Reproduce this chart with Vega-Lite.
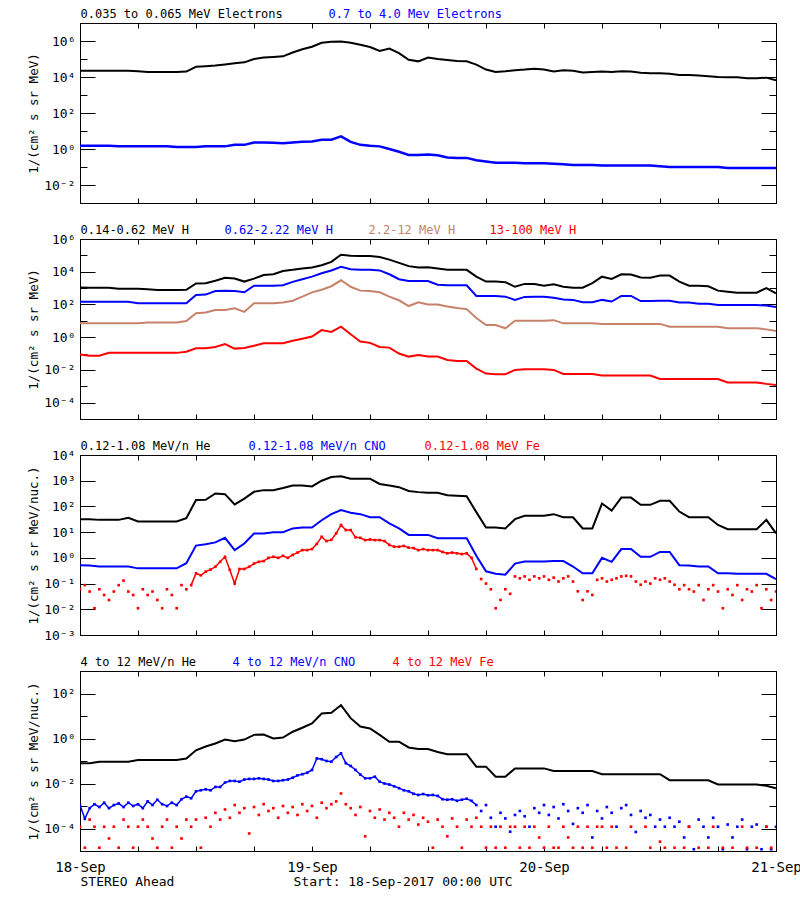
{
"$schema":"https://vega.github.io/schema/vega-lite/v6.json",
"padding":{"left":26,"top":6,"right":0,"bottom":0},
"bounds":"flush",
"spacing":36,
"datasets":{
"h":[
{"t":0,"e1":2.2e4,"e2":1.5,"h1":1070,"h2":148,"h3":7,"h4":0.089,"a1":32,"a2":0.52,"b1":0.079},
{"t":1,"e1":2.2e4,"e2":1.5,"h1":1050,"h2":148,"h3":7,"h4":0.074,"a1":32,"a2":0.5,"b1":0.079},
{"t":2,"e1":2.2e4,"e2":1.5,"h1":1050,"h2":148,"h3":7,"h4":0.074,"a1":30,"a2":0.46,"b1":0.093},
{"t":3,"e1":2.2e4,"e2":1.5,"h1":1050,"h2":148,"h3":7,"h4":0.11,"a1":30,"a2":0.46,"b1":0.093},
{"t":4,"e1":2.2e4,"e2":1.4,"h1":900,"h2":148,"h3":7,"h4":0.11,"a1":30,"a2":0.46,"b1":0.093},
{"t":5,"e1":2.2e4,"e2":1.4,"h1":900,"h2":148,"h3":7,"h4":0.11,"a1":36,"a2":0.46,"b1":0.093},
{"t":6,"e1":2.1e4,"e2":1.4,"h1":900,"h2":117,"h3":7,"h4":0.11,"a1":26,"a2":0.39,"b1":0.11},
{"t":7,"e1":1.9e4,"e2":1.4,"h1":850,"h2":117,"h3":8,"h4":0.11,"a1":26,"a2":0.39,"b1":0.11},
{"t":8,"e1":1.9e4,"e2":1.4,"h1":760,"h2":117,"h3":8,"h4":0.11,"a1":26,"a2":0.39,"b1":0.11},
{"t":9,"e1":1.9e4,"e2":1.4,"h1":760,"h2":117,"h3":8,"h4":0.11,"a1":26,"a2":0.39,"b1":0.11},
{"t":10,"e1":1.9e4,"e2":1.3,"h1":760,"h2":117,"h3":8,"h4":0.11,"a1":26,"a2":0.39,"b1":0.11},
{"t":11,"e1":2.0e4,"e2":1.3,"h1":780,"h2":117,"h3":9.8,"h4":0.13,"a1":35,"a2":0.62,"b1":0.13},
{"t":12,"e1":3.7e4,"e2":1.3,"h1":1900,"h2":380,"h3":29,"h4":0.21,"a1":178,"a2":3.0,"b1":0.3},
{"t":13,"e1":4.0e4,"e2":1.4,"h1":2000,"h2":400,"h3":32,"h4":0.21,"a1":180,"a2":3.4,"b1":0.44},
{"t":14,"e1":4.4e4,"e2":1.4,"h1":2800,"h2":660,"h3":46,"h4":0.25,"a1":320,"a2":4.0,"b1":0.6},
{"t":15,"e1":5.0e4,"e2":1.4,"h1":4300,"h2":680,"h3":46,"h4":0.38,"a1":300,"a2":6.0,"b1":0.9},
{"t":16,"e1":5.8e4,"e2":1.7,"h1":3800,"h2":660,"h3":58,"h4":0.2,"a1":120,"a2":2.0,"b1":0.75},
{"t":17,"e1":6.5e4,"e2":1.7,"h1":2500,"h2":560,"h3":35,"h4":0.22,"a1":200,"a2":3.6,"b1":0.9},
{"t":18,"e1":1.0e5,"e2":2.3,"h1":3800,"h2":1400,"h3":117,"h4":0.3,"a1":370,"a2":8.9,"b1":1.45},
{"t":19,"e1":1.2e5,"e2":2.3,"h1":6300,"h2":1400,"h3":117,"h4":0.43,"a1":430,"a2":8.9,"b1":1.5},
{"t":20,"e1":1.3e5,"e2":2.2,"h1":7000,"h2":1400,"h3":117,"h4":0.43,"a1":430,"a2":10,"b1":1.0},
{"t":21,"e1":1.4e5,"e2":2.1,"h1":1.1e4,"h2":1500,"h3":130,"h4":0.43,"a1":520,"a2":10,"b1":1.1},
{"t":22,"e1":2.3e5,"e2":2.3,"h1":1.3e4,"h2":2400,"h3":170,"h4":0.6,"a1":650,"a2":14,"b1":2.0},
{"t":23,"e1":3.5e5,"e2":2.5,"h1":1.6e4,"h2":3500,"h3":300,"h4":0.8,"a1":650,"a2":15,"b1":3.0},
{"t":24,"e1":4.8e5,"e2":2.6,"h1":1.8e4,"h2":5000,"h3":550,"h4":1.1,"a1":600,"a2":15,"b1":4.7},
{"t":25,"e1":8.0e5,"e2":3.3,"h1":2.5e4,"h2":8000,"h3":800,"h4":2.7,"a1":1000,"a2":29,"b1":13},
{"t":26,"e1":9.0e5,"e2":3.3,"h1":4.0e4,"h2":1.2e4,"h3":1300,"h4":2.1,"a1":1400,"a2":50,"b1":14},
{"t":27,"e1":9.5e5,"e2":5.0,"h1":1.1e5,"h2":2.0e4,"h3":3000,"h4":4.4,"a1":1500,"a2":72,"b1":30},
{"t":28,"e1":8.0e5,"e2":2.5,"h1":9.5e4,"h2":1.4e4,"h3":1200,"h4":1.5,"a1":1200,"a2":57,"b1":8},
{"t":29,"e1":6.2e5,"e2":1.7,"h1":9.0e4,"h2":1.3e4,"h3":700,"h4":0.55,"a1":1200,"a2":50,"b1":3.4},
{"t":30,"e1":4.6e5,"e2":1.5,"h1":9.0e4,"h2":1.3e4,"h3":660,"h4":0.45,"a1":1200,"a2":38,"b1":2.8},
{"t":31,"e1":2.8e5,"e2":1.4,"h1":8.0e4,"h2":1.2e4,"h3":550,"h4":0.25,"a1":750,"a2":38,"b1":1.45},
{"t":32,"e1":3.8e5,"e2":1.0,"h1":5.5e4,"h2":7000,"h3":300,"h4":0.23,"a1":650,"a2":22,"b1":0.72},
{"t":33,"e1":2.1e5,"e2":0.7,"h1":3.5e4,"h2":3500,"h3":180,"h4":0.1,"a1":560,"a2":14,"b1":0.72},
{"t":34,"e1":9.0e4,"e2":0.47,"h1":2.2e4,"h2":2700,"h3":80,"h4":0.065,"a1":400,"a2":7.8,"b1":0.4},
{"t":35,"e1":7.4e4,"e2":0.47,"h1":1.8e4,"h2":2700,"h3":135,"h4":0.08,"a1":360,"a2":7.8,"b1":0.34},
{"t":36,"e1":1.2e5,"e2":0.5,"h1":1.9e4,"h2":2700,"h3":100,"h4":0.065,"a1":340,"a2":7.8,"b1":0.34},
{"t":37,"e1":1.0e5,"e2":0.45,"h1":1.6e4,"h2":1600,"h3":100,"h4":0.065,"a1":340,"a2":5.8,"b1":0.25},
{"t":38,"e1":8.9e4,"e2":0.34,"h1":1.3e4,"h2":1500,"h3":75,"h4":0.04,"a1":270,"a2":5.8,"b1":0.2},
{"t":39,"e1":7.7e4,"e2":0.32,"h1":1.3e4,"h2":1500,"h3":60,"h4":0.035,"a1":260,"a2":5.8,"b1":0.2},
{"t":40,"e1":7.4e4,"e2":0.32,"h1":1.3e4,"h2":1500,"h3":52,"h4":0.035,"a1":250,"a2":5.8,"b1":0.2},
{"t":41,"e1":4.9e4,"e2":0.24,"h1":5000,"h2":330,"h3":15,"h4":0.012,"a1":60,"a2":1.2,"b1":0.056},
{"t":42,"e1":2.6e4,"e2":0.2,"h1":2500,"h2":330,"h3":5.6,"h4":0.006,"a1":15,"a2":0.3,"b1":0.056},
{"t":43,"e1":1.9e4,"e2":0.17,"h1":2500,"h2":330,"h3":5.6,"h4":0.0054,"a1":15,"a2":0.24,"b1":0.02},
{"t":44,"e1":2.1e4,"e2":0.17,"h1":2300,"h2":300,"h3":3.5,"h4":0.0054,"a1":14,"a2":0.22,"b1":0.02},
{"t":45,"e1":2.4e4,"e2":0.17,"h1":1200,"h2":190,"h3":10,"h4":0.01,"a1":32,"a2":0.6,"b1":0.047},
{"t":46,"e1":2.6e4,"e2":0.16,"h1":1800,"h2":290,"h3":10,"h4":0.011,"a1":43,"a2":0.72,"b1":0.047},
{"t":47,"e1":2.9e4,"e2":0.16,"h1":1800,"h2":300,"h3":10,"h4":0.011,"a1":43,"a2":0.72,"b1":0.047},
{"t":48,"e1":2.6e4,"e2":0.16,"h1":1400,"h2":300,"h3":10,"h4":0.011,"a1":43,"a2":0.72,"b1":0.047},
{"t":49,"e1":2.0e4,"e2":0.15,"h1":1700,"h2":260,"h3":11,"h4":0.01,"a1":50,"a2":0.75,"b1":0.036},
{"t":50,"e1":2.4e4,"e2":0.14,"h1":1200,"h2":200,"h3":7,"h4":0.0056,"a1":38,"a2":0.75,"b1":0.036},
{"t":51,"e1":2.2e4,"e2":0.13,"h1":1050,"h2":190,"h3":7,"h4":0.0056,"a1":38,"a2":0.46,"b1":0.036},
{"t":52,"e1":1.8e4,"e2":0.13,"h1":1050,"h2":135,"h3":7,"h4":0.0056,"a1":14,"a2":0.25,"b1":0.036},
{"t":53,"e1":1.9e4,"e2":0.13,"h1":2000,"h2":135,"h3":7,"h4":0.0056,"a1":14,"a2":0.25,"b1":0.036},
{"t":54,"e1":2.0e4,"e2":0.12,"h1":5000,"h2":190,"h3":6.5,"h4":0.0045,"a1":130,"a2":1.0,"b1":0.026},
{"t":55,"e1":1.9e4,"e2":0.12,"h1":3600,"h2":150,"h3":6.5,"h4":0.0045,"a1":69,"a2":0.7,"b1":0.026},
{"t":56,"e1":2.1e4,"e2":0.12,"h1":7000,"h2":330,"h3":6.5,"h4":0.0045,"a1":220,"a2":2.2,"b1":0.026},
{"t":57,"e1":2.0e4,"e2":0.12,"h1":6800,"h2":330,"h3":6.5,"h4":0.0045,"a1":220,"a2":2.2,"b1":0.026},
{"t":58,"e1":1.7e4,"e2":0.12,"h1":4500,"h2":160,"h3":6.5,"h4":0.0045,"a1":115,"a2":1.1,"b1":0.026},
{"t":59,"e1":1.6e4,"e2":0.12,"h1":4300,"h2":160,"h3":6.5,"h4":0.0045,"a1":115,"a2":1.1,"b1":0.026},
{"t":60,"e1":1.6e4,"e2":0.11,"h1":5800,"h2":170,"h3":6.5,"h4":0.0028,"a1":166,"a2":1.7,"b1":0.026},
{"t":61,"e1":1.5e4,"e2":0.1,"h1":5800,"h2":170,"h3":4.4,"h4":0.0028,"a1":166,"a2":1.7,"b1":0.014},
{"t":62,"e1":1.3e4,"e2":0.1,"h1":2500,"h2":130,"h3":4.4,"h4":0.0028,"a1":63,"a2":0.52,"b1":0.014},
{"t":63,"e1":1.3e4,"e2":0.1,"h1":1400,"h2":130,"h3":4.4,"h4":0.0028,"a1":38,"a2":0.5,"b1":0.014},
{"t":64,"e1":1.2e4,"e2":0.1,"h1":1400,"h2":112,"h3":4.4,"h4":0.0028,"a1":38,"a2":0.46,"b1":0.014},
{"t":65,"e1":1.1e4,"e2":0.1,"h1":1300,"h2":112,"h3":4.4,"h4":0.0028,"a1":38,"a2":0.46,"b1":0.014},
{"t":66,"e1":1.0e4,"e2":0.1,"h1":700,"h2":93,"h3":4.4,"h4":0.0028,"a1":19,"a2":0.25,"b1":0.009},
{"t":67,"e1":9.6e3,"e2":0.088,"h1":600,"h2":93,"h3":3.5,"h4":0.0017,"a1":13,"a2":0.25,"b1":0.009},
{"t":68,"e1":9.6e3,"e2":0.088,"h1":520,"h2":93,"h3":3.5,"h4":0.0017,"a1":13,"a2":0.24,"b1":0.009},
{"t":69,"e1":8.5e3,"e2":0.088,"h1":520,"h2":93,"h3":3.5,"h4":0.0017,"a1":13,"a2":0.24,"b1":0.009},
{"t":70,"e1":8.5e3,"e2":0.088,"h1":520,"h2":93,"h3":3.5,"h4":0.0017,"a1":13,"a2":0.24,"b1":0.009},
{"t":71,"e1":9.2e3,"e2":0.088,"h1":1000,"h2":85,"h3":3.0,"h4":0.0014,"a1":30,"a2":0.24,"b1":0.008},
{"t":72,"e1":6.5e3,"e2":0.088,"h1":480,"h2":71,"h3":2.4,"h4":0.0012,"a1":9,"a2":0.15,"b1":0.0062}
],
"n":[
{"t":0,"a3":0.06,"b2":1.1e-3,"b3":1.2e-4},
{"t":0.5,"a3":0.087,"b2":2.7e-4,"b3":1.4e-5},
{"t":1,"a3":0.049,"b2":8e-4,"b3":2.5e-4},
{"t":1.5,"a3":0.011,"b2":1.2e-3,"b3":1.2e-4},
{"t":2,"a3":0.06,"b2":9e-4,"b3":1.4e-5},
{"t":2.5,"a3":0.036,"b2":1.4e-3,"b3":1.2e-4},
{"t":3,"a3":0.023,"b2":8e-4,"b3":3.6e-5},
{"t":3.5,"a3":0.049,"b2":1.1e-3,"b3":1.2e-4},
{"t":4,"a3":0.087,"b2":1.3e-3,"b3":1.4e-5},
{"t":4.5,"a3":0.13,"b2":9e-4,"b3":2.5e-4},
{"t":5,"a3":0.049,"b2":1.4e-3,"b3":1.2e-4},
{"t":5.5,"a3":0.036,"b2":1.0e-3,"b3":1.4e-5},
{"t":6,"a3":0.011,"b2":1.2e-3,"b3":1.2e-4},
{"t":6.5,"a3":0.06,"b2":8e-4,"b3":2.5e-4},
{"t":7,"a3":0.036,"b2":1.6e-3,"b3":1.2e-4},
{"t":7.5,"a3":0.049,"b2":1.1e-3,"b3":3.6e-5},
{"t":8,"a3":0.023,"b2":1.9e-3,"b3":1.4e-5},
{"t":8.5,"a3":0.011,"b2":1.2e-3,"b3":1.2e-4},
{"t":9,"a3":0.06,"b2":1.0e-3,"b3":2.5e-4},
{"t":9.5,"a3":0.036,"b2":1.4e-3,"b3":1.4e-5},
{"t":10,"a3":0.011,"b2":1.1e-3,"b3":1.2e-4},
{"t":10.5,"a3":0.087,"b2":2.0e-3,"b3":3.6e-5},
{"t":11,"a3":0.06,"b2":2.6e-3,"b3":2.5e-4},
{"t":11.5,"a3":0.087,"b2":2.2e-3,"b3":1.2e-4},
{"t":12,"a3":0.25,"b2":4.5e-3,"b3":2.5e-4},
{"t":12.5,"a3":0.21,"b2":5e-3,"b3":1.4e-5},
{"t":13,"a3":0.29,"b2":5.5e-3,"b3":3e-4},
{"t":13.5,"a3":0.35,"b2":5e-3,"b3":1.2e-4},
{"t":14,"a3":0.45,"b2":7e-3,"b3":5e-4},
{"t":14.5,"a3":0.7,"b2":7e-3,"b3":2.5e-4},
{"t":15,"a3":1.1,"b2":0.011,"b3":7e-4},
{"t":15.5,"a3":0.34,"b2":0.013,"b3":3e-4},
{"t":16,"a3":0.1,"b2":0.013,"b3":1.1e-3},
{"t":16.5,"a3":0.37,"b2":0.012,"b3":5e-4},
{"t":17,"a3":0.37,"b2":0.015,"b3":8e-4},
{"t":17.5,"a3":0.45,"b2":0.016,"b3":6e-5},
{"t":18,"a3":0.6,"b2":0.016,"b3":9e-4},
{"t":18.5,"a3":0.7,"b2":0.017,"b3":4e-4},
{"t":19,"a3":0.75,"b2":0.016,"b3":1.2e-3},
{"t":19.5,"a3":1.0,"b2":0.015,"b3":6e-4},
{"t":20,"a3":1.1,"b2":0.013,"b3":8e-4},
{"t":20.5,"a3":1.0,"b2":0.013,"b3":3e-4},
{"t":21,"a3":1.2,"b2":0.014,"b3":1e-3},
{"t":21.5,"a3":1.0,"b2":0.015,"b3":5e-4},
{"t":22,"a3":1.3,"b2":0.018,"b3":9e-4},
{"t":22.5,"a3":1.6,"b2":0.023,"b3":4e-4},
{"t":23,"a3":2.0,"b2":0.026,"b3":1.2e-3},
{"t":23.5,"a3":2.0,"b2":0.03,"b3":6e-4},
{"t":24,"a3":2.2,"b2":0.04,"b3":1e-3},
{"t":24.5,"a3":3.5,"b2":0.13,"b3":3e-4},
{"t":25,"a3":6.6,"b2":0.12,"b3":1.4e-3},
{"t":25.5,"a3":4.5,"b2":0.1,"b3":8e-4},
{"t":26,"a3":5.0,"b2":0.093,"b3":1.2e-3},
{"t":26.5,"a3":9,"b2":0.15,"b3":1.6e-3},
{"t":27,"a3":19,"b2":0.22,"b3":3.6e-3},
{"t":27.5,"a3":12,"b2":0.08,"b3":1.2e-3},
{"t":28,"a3":12,"b2":0.06,"b3":8e-4},
{"t":28.5,"a3":6.3,"b2":0.04,"b3":4e-4},
{"t":29,"a3":6.0,"b2":0.025,"b3":9e-4},
{"t":29.5,"a3":4.9,"b2":0.017,"b3":4.5e-5},
{"t":30,"a3":5.2,"b2":0.017,"b3":6e-4},
{"t":30.5,"a3":4.9,"b2":0.02,"b3":3e-4},
{"t":31,"a3":4.9,"b2":0.012,"b3":7e-4},
{"t":31.5,"a3":4.5,"b2":0.01,"b3":2.5e-4},
{"t":32,"a3":3.2,"b2":0.009,"b3":5e-4},
{"t":32.5,"a3":2.7,"b2":0.0075,"b3":3e-4},
{"t":33,"a3":2.7,"b2":0.0062,"b3":1.2e-4},
{"t":33.5,"a3":2.9,"b2":0.005,"b3":5e-4},
{"t":34,"a3":2.5,"b2":0.0045,"b3":2.5e-4},
{"t":34.5,"a3":2.4,"b2":0.0035,"b3":4e-4},
{"t":35,"a3":2.0,"b2":0.0031,"b3":1.5e-4},
{"t":35.5,"a3":2.2,"b2":0.0034,"b3":3e-4},
{"t":36,"a3":2.0,"b2":0.003,"b3":2e-4},
{"t":36.5,"a3":2.0,"b2":0.0031,"b3":1.4e-5},
{"t":37,"a3":2.0,"b2":0.0028,"b3":2.5e-4},
{"t":37.5,"a3":1.7,"b2":0.002,"b3":1.2e-4},
{"t":38,"a3":1.5,"b2":0.0019,"b3":4.5e-5},
{"t":38.5,"a3":1.6,"b2":0.002,"b3":2.8e-4},
{"t":39,"a3":1.5,"b2":0.0017,"b3":1.2e-4},
{"t":39.5,"a3":1.4,"b2":0.0019,"b3":1.4e-5},
{"t":40,"a3":1.5,"b2":0.0021,"b3":2.5e-4},
{"t":40.5,"a3":1.0,"b2":0.0017,"b3":1.2e-4},
{"t":41,"a3":0.37,"b2":0.0011,"b3":3e-4},
{"t":41.5,"a3":0.15,"b2":6e-4,"b3":1.2e-4},
{"t":42,"a3":0.1,"b2":1.1e-3,"b3":1.4e-5},
{"t":42.5,"a3":0.06,"b2":3e-4,"b3":1.2e-4},
{"t":43,"a3":0.011,"b2":1.2e-4,"b3":1.4e-5},
{"t":43.5,"a3":0.023,"b2":5e-4,"b3":1.2e-4},
{"t":44,"a3":0.06,"b2":2.8e-4,"b3":1.4e-5},
{"t":44.5,"a3":0.04,"b2":7.2e-5,"b3":1.2e-4},
{"t":45,"a3":0.19,"b2":4e-4,"b3":1.2e-4},
{"t":45.5,"a3":0.16,"b2":6e-4,"b3":1.4e-5},
{"t":46,"a3":0.19,"b2":3.5e-4,"b3":1.2e-4},
{"t":46.5,"a3":0.14,"b2":1.2e-4,"b3":1.4e-5},
{"t":47,"a3":0.19,"b2":8e-4,"b3":1.2e-4},
{"t":47.5,"a3":0.16,"b2":5e-4,"b3":4e-5},
{"t":48,"a3":0.19,"b2":1.1e-3,"b3":1.4e-5},
{"t":48.5,"a3":0.14,"b2":4e-4,"b3":1.2e-4},
{"t":49,"a3":0.17,"b2":9e-4,"b3":1.4e-5},
{"t":49.5,"a3":0.12,"b2":2.8e-4,"b3":1.4e-5},
{"t":50,"a3":0.16,"b2":1.2e-3,"b3":1.2e-4},
{"t":50.5,"a3":0.19,"b2":6e-4,"b3":4e-5},
{"t":51,"a3":0.12,"b2":1.6e-4,"b3":1.4e-5},
{"t":51.5,"a3":0.05,"b2":8e-4,"b3":1.2e-4},
{"t":52,"a3":0.023,"b2":5e-4,"b3":1.4e-5},
{"t":52.5,"a3":0.05,"b2":1.1e-3,"b3":1.2e-4},
{"t":53,"a3":0.036,"b2":4e-5,"b3":1.4e-5},
{"t":53.5,"a3":0.14,"b2":6e-4,"b3":1.2e-4},
{"t":54,"a3":0.16,"b2":2.8e-4,"b3":1.2e-4},
{"t":54.5,"a3":0.12,"b2":9e-4,"b3":1.4e-5},
{"t":55,"a3":0.14,"b2":5e-4,"b3":1.2e-4},
{"t":55.5,"a3":0.16,"b2":1.2e-4,"b3":1.4e-5},
{"t":56,"a3":0.19,"b2":8e-4,"b3":null},
{"t":56.5,"a3":0.2,"b2":1.1e-3,"b3":1.4e-5},
{"t":57,"a3":0.19,"b2":4e-4,"b3":1.2e-4},
{"t":57.5,"a3":0.12,"b2":7e-5,"b3":null},
{"t":58,"a3":0.09,"b2":6e-4,"b3":null},
{"t":58.5,"a3":0.12,"b2":3e-4,"b3":1.2e-4},
{"t":59,"a3":0.1,"b2":4e-4,"b3":1.4e-5},
{"t":59.5,"a3":0.16,"b2":1.2e-4,"b3":null},
{"t":60,"a3":0.14,"b2":2.5e-4,"b3":2.6e-5},
{"t":60.5,"a3":0.16,"b2":1.2e-4,"b3":1.4e-5},
{"t":61,"a3":0.12,"b2":3e-4,"b3":null},
{"t":61.5,"a3":0.09,"b2":1.2e-4,"b3":1.4e-5},
{"t":62,"a3":0.06,"b2":2e-4,"b3":null},
{"t":62.5,"a3":0.087,"b2":4e-5,"b3":1.4e-5},
{"t":63,"a3":0.06,"b2":1.2e-4,"b3":1.2e-4},
{"t":63.5,"a3":0.049,"b2":1.2e-5,"b3":null},
{"t":64,"a3":0.087,"b2":2.5e-4,"b3":1.4e-5},
{"t":64.5,"a3":0.023,"b2":1.2e-4,"b3":null},
{"t":65,"a3":0.06,"b2":4e-5,"b3":1.4e-5},
{"t":65.5,"a3":0.087,"b2":3e-4,"b3":1.2e-4},
{"t":66,"a3":0.049,"b2":1.2e-4,"b3":null},
{"t":66.5,"a3":0.011,"b2":1.2e-5,"b3":1.4e-5},
{"t":67,"a3":0.06,"b2":1.5e-4,"b3":null},
{"t":67.5,"a3":0.036,"b2":4e-5,"b3":1.4e-5},
{"t":68,"a3":0.087,"b2":1.2e-4,"b3":null},
{"t":68.5,"a3":0.023,"b2":2.5e-4,"b3":1.2e-4},
{"t":69,"a3":0.06,"b2":1.2e-5,"b3":1.4e-5},
{"t":69.5,"a3":0.049,"b2":1.2e-4,"b3":null},
{"t":70,"a3":0.087,"b2":1.5e-4,"b3":1.4e-5},
{"t":70.5,"a3":0.011,"b2":1.2e-5,"b3":null},
{"t":71,"a3":0.06,"b2":1.2e-4,"b3":1.2e-4},
{"t":71.5,"a3":0.023,"b2":1.2e-5,"b3":1.4e-5},
{"t":72,"a3":0.049,"b2":1.2e-4,"b3":null}
]
},
"vconcat":[
{
"width":696,"height":180,
"resolve":{"axis":{"x":"independent","y":"independent"}},
"layer":[
{"data":{"name":"h"},"mark":{"type":"line","color":"#000000","strokeWidth":2,"clip":true},
"encoding":{
"x":{"field":"t","type":"quantitative","scale":{"domain":[0,72],"nice":false,"zero":false},"axis":{"orient":"bottom","values":[0,6,12,18,24,30,36,42,48,54,60,66,72],"labels":false,"tickSize":5,"offset":-5,"domain":false,"grid":false,"title":null}},
"y":{"field":"e1","type":"quantitative","scale":{"type":"log","domain":[0.001,10000000],"nice":false},"axis":{"orient":"left","values":[0.001,0.01,0.1,1,10,100,1000,10000,100000,1000000,10000000],"tickSize":15,"offset":-15,"tickDash":{"condition":{"test":"round(log(datum.value)/LN10) % 2 == 0","value":[20,1]},"value":[0,8,7,40]},"labelExpr":"round(log(datum.value)/LN10) % 2 == 0 ? '10' + replace(replace(replace(replace(replace(replace(replace(replace(replace(replace(replace('' + round(log(datum.value)/LN10), '-', '⁻'), '0', '⁰'), '1', '¹'), '2', '²'), '3', '³'), '4', '⁴'), '5', '⁵'), '6', '⁶'), '7', '⁷'), '8', '⁸'), '9', '⁹') : ''","labelPadding":5,"labelOverlap":false,"labelFlush":false,"labelBound":false,"domain":false,"grid":false,"title":"1/(cm² s sr MeV)","titleX":-62,"titleY":90,"titleAngle":-90,"titleAlign":"center","titleBaseline":"middle"}}}},
{"data":{"name":"h"},"mark":{"type":"line","color":"#0000ff","strokeWidth":2.5,"clip":true},
"encoding":{
"x":{"field":"t","type":"quantitative","scale":{"domain":[0,72],"nice":false,"zero":false},"axis":{"orient":"top","values":[0,6,12,18,24,30,36,42,48,54,60,66,72],"labels":false,"tickSize":5,"offset":-5,"domain":false,"grid":false,"title":"0.7 to 4.0 Mev Electrons","titleColor":"#0000ff","titleX":248,"titleY":-11,"titleAlign":"left","titleBaseline":"alphabetic","titleAngle":0,"titleFontSize":12}},
"y":{"field":"e2","type":"quantitative","scale":{"type":"log","domain":[0.001,10000000],"nice":false},"axis":{"orient":"right","values":[0.001,0.01,0.1,1,10,100,1000,10000,100000,1000000,10000000],"tickSize":15,"offset":-15,"tickDash":{"condition":{"test":"round(log(datum.value)/LN10) % 2 == 0","value":[20,1]},"value":[0,8,7,40]},"labels":false,"domain":false,"grid":false,"title":"0.035 to 0.065 MeV Electrons","titleColor":"#000000","titleX":-681,"titleY":-6,"titleAngle":0,"titleAlign":"left","titleBaseline":"alphabetic","titleFontSize":12}}}}
]
},
{
"width":696,"height":180,
"resolve":{"axis":{"x":"independent","y":"independent"}},
"layer":[
{"data":{"name":"h"},"mark":{"type":"line","color":"#000000","strokeWidth":2,"clip":true},
"encoding":{
"x":{"field":"t","type":"quantitative","scale":{"domain":[0,72],"nice":false,"zero":false},"axis":{"orient":"bottom","values":[0,6,12,18,24,30,36,42,48,54,60,66,72],"labels":false,"tickSize":5,"offset":-5,"domain":false,"grid":false,"title":null}},
"y":{"field":"h1","type":"quantitative","scale":{"type":"log","domain":[0.00001,1000000],"nice":false},"axis":{"orient":"left","values":[0.00001,0.0001,0.001,0.01,0.1,1,10,100,1000,10000,100000,1000000],"tickSize":15,"offset":-15,"tickDash":{"condition":{"test":"round(log(datum.value)/LN10) % 2 == 0","value":[20,1]},"value":[0,8,7,40]},"labelExpr":"round(log(datum.value)/LN10) % 2 == 0 ? '10' + replace(replace(replace(replace(replace(replace(replace(replace(replace(replace(replace('' + round(log(datum.value)/LN10), '-', '⁻'), '0', '⁰'), '1', '¹'), '2', '²'), '3', '³'), '4', '⁴'), '5', '⁵'), '6', '⁶'), '7', '⁷'), '8', '⁸'), '9', '⁹') : ''","labelPadding":5,"labelOverlap":false,"labelFlush":false,"labelBound":false,"domain":false,"grid":false,"title":"1/(cm² s sr MeV)","titleX":-62,"titleY":90,"titleAngle":-90,"titleAlign":"center","titleBaseline":"middle"}}}},
{"data":{"name":"h"},"mark":{"type":"line","color":"#0000ff","strokeWidth":2,"clip":true},
"encoding":{
"x":{"field":"t","type":"quantitative","scale":{"domain":[0,72],"nice":false,"zero":false},"axis":{"orient":"top","values":[0,6,12,18,24,30,36,42,48,54,60,66,72],"labels":false,"tickSize":5,"offset":-5,"domain":false,"grid":false,"title":"0.62-2.22 MeV H","titleColor":"#0000ff","titleX":144,"titleY":-11,"titleAlign":"left","titleBaseline":"alphabetic","titleAngle":0,"titleFontSize":12}},
"y":{"field":"h2","type":"quantitative","scale":{"type":"log","domain":[0.00001,1000000],"nice":false},"axis":{"orient":"right","values":[0.00001,0.0001,0.001,0.01,0.1,1,10,100,1000,10000,100000,1000000],"tickSize":15,"offset":-15,"tickDash":{"condition":{"test":"round(log(datum.value)/LN10) % 2 == 0","value":[20,1]},"value":[0,8,7,40]},"labels":false,"domain":false,"grid":false,"title":"0.14-0.62 MeV H","titleColor":"#000000","titleX":-681,"titleY":-6,"titleAngle":0,"titleAlign":"left","titleBaseline":"alphabetic","titleFontSize":12}}}},
{"data":{"name":"h"},"mark":{"type":"line","color":"#c8826b","strokeWidth":2,"clip":true},
"encoding":{
"x":{"field":"t","type":"quantitative","scale":{"domain":[0,72],"nice":false,"zero":false},"axis":{"orient":"top","ticks":false,"labels":false,"domain":false,"grid":false,"title":"2.2-12 MeV H","titleColor":"#c8826b","titleX":288,"titleY":-6,"titleAlign":"left","titleBaseline":"alphabetic","titleAngle":0,"titleFontSize":12}},
"y":{"field":"h3","type":"quantitative","scale":{"type":"log","domain":[0.00001,1000000],"nice":false},"axis":null}}},
{"data":{"name":"h"},"mark":{"type":"line","color":"#ff0000","strokeWidth":2,"clip":true},
"encoding":{
"x":{"field":"t","type":"quantitative","scale":{"domain":[0,72],"nice":false,"zero":false},"axis":{"orient":"top","ticks":false,"labels":false,"domain":false,"grid":false,"title":"13-100 MeV H","titleColor":"#ff0000","titleX":409,"titleY":-6,"titleAlign":"left","titleBaseline":"alphabetic","titleAngle":0,"titleFontSize":12}},
"y":{"field":"h4","type":"quantitative","scale":{"type":"log","domain":[0.00001,1000000],"nice":false},"axis":null}}}
]
},
{
"width":696,"height":180,
"resolve":{"axis":{"x":"independent","y":"independent"}},
"layer":[
{"data":{"name":"h"},"mark":{"type":"line","color":"#000000","strokeWidth":2,"clip":true},
"encoding":{
"x":{"field":"t","type":"quantitative","scale":{"domain":[0,72],"nice":false,"zero":false},"axis":{"orient":"bottom","values":[0,6,12,18,24,30,36,42,48,54,60,66,72],"labels":false,"tickSize":5,"offset":-5,"domain":false,"grid":false,"title":null}},
"y":{"field":"a1","type":"quantitative","scale":{"type":"log","domain":[0.001,10000],"nice":false},"axis":{"orient":"left","values":[0.001,0.01,0.1,1,10,100,1000,10000],"tickSize":15,"offset":-15,"labelExpr":"'10' + replace(replace(replace(replace(replace(replace(replace(replace(replace(replace(replace('' + round(log(datum.value)/LN10), '-', '⁻'), '0', '⁰'), '1', '¹'), '2', '²'), '3', '³'), '4', '⁴'), '5', '⁵'), '6', '⁶'), '7', '⁷'), '8', '⁸'), '9', '⁹')","labelPadding":5,"labelOverlap":false,"labelFlush":false,"labelBound":false,"domain":false,"grid":false,"title":"1/(cm² s sr MeV/nuc.)","titleX":-62,"titleY":90,"titleAngle":-90,"titleAlign":"center","titleBaseline":"middle"}}}},
{"data":{"name":"h"},"mark":{"type":"line","color":"#0000ff","strokeWidth":2,"clip":true},
"encoding":{
"x":{"field":"t","type":"quantitative","scale":{"domain":[0,72],"nice":false,"zero":false},"axis":{"orient":"top","values":[0,6,12,18,24,30,36,42,48,54,60,66,72],"labels":false,"tickSize":5,"offset":-5,"domain":false,"grid":false,"title":"0.12-1.08 MeV/n CNO","titleColor":"#0000ff","titleX":168,"titleY":-11,"titleAlign":"left","titleBaseline":"alphabetic","titleAngle":0,"titleFontSize":12}},
"y":{"field":"a2","type":"quantitative","scale":{"type":"log","domain":[0.001,10000],"nice":false},"axis":{"orient":"right","values":[0.001,0.01,0.1,1,10,100,1000,10000],"tickSize":15,"offset":-15,"labels":false,"domain":false,"grid":false,"title":"0.12-1.08 MeV/n He","titleColor":"#000000","titleX":-681,"titleY":-6,"titleAngle":0,"titleAlign":"left","titleBaseline":"alphabetic","titleFontSize":12}}}},
{"data":{"name":"n"},"transform":[{"filter":"datum.t >= 11.5 && datum.t <= 41"}],"mark":{"type":"line","color":"#ff0000","strokeWidth":1.5,"clip":true},
"encoding":{
"x":{"field":"t","type":"quantitative","scale":{"domain":[0,72],"nice":false,"zero":false},"axis":null},
"y":{"field":"a3","type":"quantitative","scale":{"type":"log","domain":[0.001,10000],"nice":false},"axis":null}}},
{"data":{"name":"n"},"mark":{"type":"square","color":"#ff0000","size":7,"filled":true,"opacity":1,"clip":true},
"encoding":{
"x":{"field":"t","type":"quantitative","scale":{"domain":[0,72],"nice":false,"zero":false},"axis":{"orient":"top","ticks":false,"labels":false,"domain":false,"grid":false,"title":"0.12-1.08 MeV Fe","titleColor":"#ff0000","titleX":344,"titleY":-6,"titleAlign":"left","titleBaseline":"alphabetic","titleAngle":0,"titleFontSize":12}},
"y":{"field":"a3","type":"quantitative","scale":{"type":"log","domain":[0.001,10000],"nice":false},"axis":null}}}
]
},
{
"width":696,"height":180,
"resolve":{"axis":{"x":"independent","y":"independent"}},
"layer":[
{"data":{"name":"h"},"mark":{"type":"line","color":"#000000","strokeWidth":2,"clip":true},
"encoding":{
"x":{"field":"t","type":"quantitative","scale":{"domain":[0,72],"nice":false,"zero":false},"axis":{"orient":"bottom","values":[0,6,12,18,24,30,36,42,48,54,60,66,72],"labelExpr":"datum.value == 0 ? '18-Sep' : datum.value == 24 ? '19-Sep' : datum.value == 48 ? '20-Sep' : datum.value == 72 ? '21-Sep' : ''","labelFontSize":14,"labelPadding":9,"labelOverlap":false,"labelFlush":false,"labelBound":false,"tickSize":5,"offset":-5,"domain":false,"grid":false,"title":"Start: 18-Sep-2017 00:00 UTC","titleX":213,"titleY":39,"titleAlign":"left","titleBaseline":"alphabetic","titleAngle":0,"titleFontSize":13}},
"y":{"field":"b1","type":"quantitative","scale":{"type":"log","domain":[0.00001,1000],"nice":false},"axis":{"orient":"left","values":[0.00001,0.0001,0.001,0.01,0.1,1,10,100,1000],"tickSize":15,"offset":-15,"tickDash":{"condition":{"test":"round(log(datum.value)/LN10) % 2 == 0","value":[20,1]},"value":[0,8,7,40]},"labelExpr":"round(log(datum.value)/LN10) % 2 == 0 ? '10' + replace(replace(replace(replace(replace(replace(replace(replace(replace(replace(replace('' + round(log(datum.value)/LN10), '-', '⁻'), '0', '⁰'), '1', '¹'), '2', '²'), '3', '³'), '4', '⁴'), '5', '⁵'), '6', '⁶'), '7', '⁷'), '8', '⁸'), '9', '⁹') : ''","labelPadding":5,"labelOverlap":false,"labelFlush":false,"labelBound":false,"domain":false,"grid":false,"title":"1/(cm² s sr MeV/nuc.)","titleX":-62,"titleY":90,"titleAngle":-90,"titleAlign":"center","titleBaseline":"middle"}}}},
{"data":{"name":"n"},"transform":[{"filter":"datum.t <= 41"}],"mark":{"type":"line","color":"#0000ff","strokeWidth":1.5,"clip":true},
"encoding":{
"x":{"field":"t","type":"quantitative","scale":{"domain":[0,72],"nice":false,"zero":false},"axis":null},
"y":{"field":"b2","type":"quantitative","scale":{"type":"log","domain":[0.00001,1000],"nice":false},"axis":null}}},
{"data":{"name":"n"},"mark":{"type":"square","color":"#0000ff","size":7,"filled":true,"opacity":1,"clip":true},
"encoding":{
"x":{"field":"t","type":"quantitative","scale":{"domain":[0,72],"nice":false,"zero":false},"axis":{"orient":"top","values":[0,6,12,18,24,30,36,42,48,54,60,66,72],"labels":false,"tickSize":5,"offset":-5,"domain":false,"grid":false,"title":"4 to 12 MeV/n CNO","titleColor":"#0000ff","titleX":152,"titleY":-11,"titleAlign":"left","titleBaseline":"alphabetic","titleAngle":0,"titleFontSize":12}},
"y":{"field":"b2","type":"quantitative","scale":{"type":"log","domain":[0.00001,1000],"nice":false},"axis":{"orient":"right","values":[0.00001,0.0001,0.001,0.01,0.1,1,10,100,1000],"tickSize":15,"offset":-15,"tickDash":{"condition":{"test":"round(log(datum.value)/LN10) % 2 == 0","value":[20,1]},"value":[0,8,7,40]},"labels":false,"domain":false,"grid":false,"title":"4 to 12 MeV/n He","titleColor":"#000000","titleX":-681,"titleY":-6,"titleAngle":0,"titleAlign":"left","titleBaseline":"alphabetic","titleFontSize":12}}}},
{"data":{"name":"n"},"mark":{"type":"square","color":"#ff0000","size":7,"filled":true,"opacity":1,"clip":true},
"encoding":{
"x":{"field":"t","type":"quantitative","scale":{"domain":[0,72],"nice":false,"zero":false},"axis":{"orient":"top","ticks":false,"labels":false,"domain":false,"grid":false,"title":"4 to 12 MeV Fe","titleColor":"#ff0000","titleX":312,"titleY":-6,"titleAlign":"left","titleBaseline":"alphabetic","titleAngle":0,"titleFontSize":12}},
"y":{"field":"b3","type":"quantitative","scale":{"type":"log","domain":[0.00001,1000],"nice":false},"axis":{"orient":"left","ticks":false,"labels":false,"domain":false,"grid":false,"title":"STEREO Ahead","titleColor":"#000000","titleX":0,"titleY":214,"titleAngle":0,"titleAlign":"left","titleBaseline":"alphabetic","titleFontSize":13}}}}
]
}
],
"config":{
"background":"white",
"view":{"stroke":"#000000","strokeWidth":1},
"font":"DejaVu Sans Mono",
"axis":{"labelFont":"DejaVu Sans Mono","titleFont":"DejaVu Sans Mono","labelFontSize":13,"titleFontSize":12.5,"titleFontWeight":"normal","labelColor":"#000000","titleColor":"#000000","tickColor":"#000000","tickWidth":1}
}
}
